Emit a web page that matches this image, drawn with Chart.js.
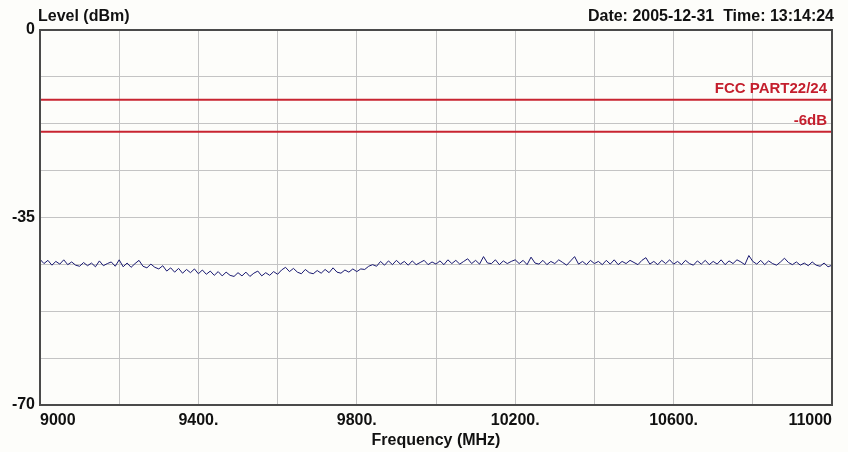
<!DOCTYPE html>
<html>
<head>
<meta charset="utf-8">
<script src="https://cdn.jsdelivr.net/npm/chart.js@4/dist/chart.umd.min.js"></script>
<style>
  html, body { margin: 0; padding: 0; background: #fdfdfa; }
  #wrap { width: 848px; height: 452px; }
</style>
</head>
<body>
<div id="wrap"><canvas id="spectrumChart" width="848" height="452"></canvas></div>
<script>
// sweep settings (MHz)
const startFreq = 9000;
const stopFreq = 11000;
const stepFreq = 10;

// measured level, one value per 10 MHz step (dBm)
const levels = [
    -42.8, -43.6, -43.0, -43.9, -43.2, -43.7, -42.9, -43.8, -43.3, -43.9,
    -44.1, -43.4, -44.0, -43.5, -44.2, -43.1, -44.0, -43.6, -43.3, -44.1,
    -42.9, -44.2, -43.5, -44.3, -43.6, -43.0, -44.1, -44.4, -43.7, -44.3,
    -44.6, -44.0, -45.0, -44.4, -45.2, -44.5, -45.4, -44.7, -45.3, -44.6,
    -45.5, -44.8, -45.6, -45.0, -45.8, -45.1, -45.9, -45.2, -45.8, -46.0,
    -45.3, -45.9, -45.2, -46.0, -45.4, -45.0, -45.9, -45.3, -45.8, -45.1,
    -45.6, -44.8, -44.3, -45.1, -44.5, -45.2, -45.5, -44.7, -45.3, -45.5,
    -44.9, -45.4, -44.7, -45.3, -44.4, -45.2, -45.4, -44.8, -45.2, -44.6,
    -45.1, -44.6, -44.7, -44.1, -43.8, -44.1, -43.2, -43.9, -43.1, -43.8,
    -43.0, -43.7, -43.2, -43.9, -43.1, -43.8, -43.4, -43.0, -43.8, -43.3,
    -43.7, -43.1, -43.8, -42.9, -43.6, -43.0, -43.7, -43.2, -42.7, -43.6,
    -43.0, -43.7, -42.3, -43.5, -43.6, -42.9, -43.8, -43.1, -43.6, -43.2,
    -42.9, -43.6, -43.0, -43.8, -42.4, -43.5, -43.7, -43.0, -43.8, -43.2,
    -43.6, -42.9, -43.4, -43.9, -43.1, -42.3, -43.7, -43.2, -43.8, -43.0,
    -43.6, -43.2, -43.8, -43.0, -43.7, -42.9, -43.8, -43.2, -43.6, -43.0,
    -43.4, -43.8, -43.0, -42.5, -43.7, -43.2, -43.8, -43.0, -43.6, -42.9,
    -43.7, -43.2, -43.8, -43.0, -43.6, -43.9, -43.1, -43.7, -43.0, -43.8,
    -43.2, -43.7, -42.9, -43.8, -43.1, -43.6, -42.9, -43.3, -43.8, -42.1,
    -43.2, -43.7, -43.0, -43.8, -43.1, -43.6, -43.9, -43.3, -42.6, -43.4,
    -43.8, -43.3, -43.9, -43.5, -44.0, -43.3, -43.9, -44.1, -43.5, -44.2,
    -43.9
];

// limit lines (dBm)
const limitNames = ['FCC PART22/24', '-6dB'];
const limitLevels = [-13, -19];

// axis labels
const xTickLabels = { 9000: '9000', 9400: '9400.', 9800: '9800.', 10200: '10200.', 10600: '10600.', 11000: '11000' };
const yTickLabels = { 0: '0', '-35': '-35', '-70': '-70' };
const yTitle = 'Level (dBm)';
const xTitle = 'Frequency (MHz)';
const stampText = 'Date: 2005-12-31  Time: 13:14:24';

const traceData = levels.map((v, i) => ({ x: startFreq + i * stepFreq, y: v }));

const limitSets = limitLevels.map((lv, i) => ({
    label: limitNames[i],
    data: [{ x: startFreq, y: lv }, { x: stopFreq, y: lv }],
    borderColor: 'rgb(200, 36, 48)',
    borderWidth: 2,
    pointRadius: 0
}));

const textPlugin = {
    id: 'textPlugin',
    afterDraw(chart) {
        const ctx = chart.ctx;
        const area = chart.chartArea;
        const yScale = chart.scales.y;
        ctx.save();

        // frame
        ctx.strokeStyle = '#4a4a4a';
        ctx.lineWidth = 2;
        ctx.strokeRect(area.left, area.top, area.right - area.left, area.bottom - area.top);

        // header texts
        ctx.fillStyle = '#111';
        ctx.font = 'bold 16px "Liberation Sans", Arial, sans-serif';
        ctx.textBaseline = 'alphabetic';
        ctx.textAlign = 'left';
        ctx.fillText(yTitle, 38, 21);
        ctx.textAlign = 'right';
        ctx.fillText(stampText, 834, 21);

        // limit line names
        ctx.fillStyle = 'rgb(196, 30, 44)';
        ctx.font = 'bold 15px "Liberation Sans", Arial, sans-serif';
        ctx.textAlign = 'right';
        ctx.textBaseline = 'bottom';
        limitLevels.forEach((lv, i) => {
            ctx.fillText(limitNames[i], area.right - 5, yScale.getPixelForValue(lv) - 3);
        });
        ctx.restore();
    }
};

new Chart(document.getElementById('spectrumChart').getContext('2d'), {
    type: 'line',
    data: {
        datasets: [
            ...limitSets,
            {
                label: 'Level',
                data: traceData,
                borderColor: 'rgb(24, 24, 112)',
                borderWidth: 1,
                pointRadius: 0,
                tension: 0
            }
        ]
    },
    options: {
        responsive: false,
        animation: false,
        layout: { padding: { top: 30, right: 16, left: 0, bottom: 2 } },
        plugins: {
            legend: { display: false },
            tooltip: { enabled: false }
        },
        scales: {
            x: {
                type: 'linear',
                min: startFreq,
                max: stopFreq,
                afterFit: scale => { scale.height = 45; },
                ticks: {
                    stepSize: 200,
                    autoSkip: false,
                    maxRotation: 0,
                    align: 'inner',
                    padding: 6,
                    color: '#111',
                    font: { family: '"Liberation Sans", Arial, sans-serif', size: 16, weight: 'bold' },
                    callback: v => xTickLabels[v] || ''
                },
                grid: { color: 'rgb(196, 196, 196)', drawTicks: false },
                border: { display: false },
                title: {
                    display: true,
                    text: xTitle,
                    color: '#111',
                    padding: { top: 0, bottom: 0 },
                    font: { family: '"Liberation Sans", Arial, sans-serif', size: 16, weight: 'bold' }
                }
            },
            y: {
                min: -70,
                max: 0,
                afterFit: scale => { scale.width = 40; },
                afterBuildTicks: scale => {
                    const t = [];
                    for (let k = 0; k <= 8; k++) t.push({ value: -70 + k * 8.75 });
                    scale.ticks = t;
                },
                ticks: {
                    padding: 5,
                    color: '#111',
                    font: { family: '"Liberation Sans", Arial, sans-serif', size: 16, weight: 'bold' },
                    callback: v => yTickLabels[String(Math.round(v * 100) / 100)] || ''
                },
                grid: { color: 'rgb(196, 196, 196)', drawTicks: false },
                border: { display: false }
            }
        }
    },
    plugins: [textPlugin]
});
</script>
</body>
</html>
